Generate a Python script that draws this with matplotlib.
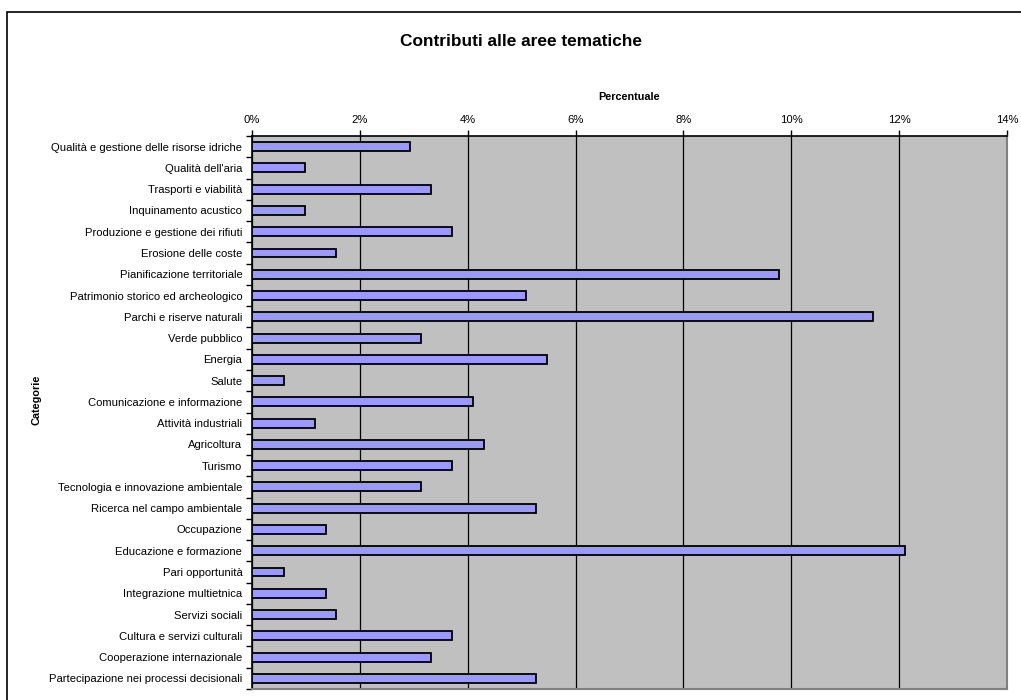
import matplotlib.pyplot as plt
from matplotlib.patches import Rectangle
from matplotlib.ticker import PercentFormatter, FixedLocator, MultipleLocator
import numpy as np

plt.rcParams['font.family'] = ['Liberation Sans', 'DejaVu Sans']

# Data (share of contributions, %)
categories = [
    'Qualità e gestione delle risorse idriche',
    "Qualità dell'aria",
    'Trasporti e viabilità',
    'Inquinamento acustico',
    'Produzione e gestione dei rifiuti',
    'Erosione delle coste',
    'Pianificazione territoriale',
    'Patrimonio storico ed archeologico',
    'Parchi e riserve naturali',
    'Verde pubblico',
    'Energia',
    'Salute',
    'Comunicazione e informazione',
    'Attività industriali',
    'Agricoltura',
    'Turismo',
    'Tecnologia e innovazione ambientale',
    'Ricerca nel campo ambientale',
    'Occupazione',
    'Educazione e formazione',
    'Pari opportunità',
    'Integrazione multietnica',
    'Servizi sociali',
    'Cultura e servizi culturali',
    'Cooperazione internazionale',
    'Partecipazione nei processi decisionali',
]
percent = [2.93, 0.98, 3.32, 0.98, 3.71, 1.56, 9.77, 5.08, 11.52, 3.13,
           5.47, 0.59, 4.10, 1.17, 4.30, 3.71, 3.13, 5.27, 1.37, 12.11,
           0.59, 1.37, 1.56, 3.71, 3.32, 5.27]

fig = plt.figure(figsize=(10.21, 7), dpi=100)

# chart frame
fig.patches.append(Rectangle((7 / 1021, -0.05), 1.2, 1 - 12 / 700 + 0.05,
                             transform=fig.transFigure, fill=False,
                             edgecolor='black', linewidth=1.2))

ax = fig.add_axes([252 / 1021, 11 / 700, 755 / 1021, 553 / 700])
ax.set_facecolor('#C0C0C0')

y = np.arange(len(categories))
ax.barh(y, percent, height=0.42, color='#9999FF', edgecolor='black',
        linewidth=1.3, zorder=3)

ax.set_xlim(0, 14)
ax.set_ylim(len(categories) - 0.5, -0.5)
ax.xaxis.set_major_locator(MultipleLocator(2))
ax.xaxis.set_major_formatter(PercentFormatter(decimals=0))
ax.xaxis.tick_top()
ax.xaxis.set_label_position('top')
ax.grid(axis='x', color='black', linewidth=0.9, zorder=1)

# category labels centred on bars, ticks between them
ax.set_yticks(y)
ax.set_yticklabels(categories, fontsize=8.1)
ax.tick_params(axis='y', length=0, pad=7)
ax.yaxis.set_minor_locator(FixedLocator(np.arange(-0.5, len(categories), 1)))
ax.tick_params(axis='y', which='minor', length=4, width=1, direction='out')
ax.tick_params(axis='x', labelsize=8.1, length=4, width=1, direction='out', pad=4)

for side in ('right', 'bottom'):
    ax.spines[side].set_color('#808080')
    ax.spines[side].set_linewidth(1.5)
for side in ('left', 'top'):
    ax.spines[side].set_color('black')
    ax.spines[side].set_linewidth(1.2)

ax.set_xlabel('Percentuale', fontsize=7.8, fontweight='bold', labelpad=11)
fig.text(37 / 1021, 1 - 400 / 700, 'Categorie', rotation=90, fontsize=7.8,
         fontweight='bold', ha='center', va='center')
fig.text(521 / 1021, 1 - 41 / 700, 'Contributi alle aree tematiche',
         fontsize=12.4, fontweight='bold', ha='center', va='center')

fig.savefig('out.png', dpi=100)
